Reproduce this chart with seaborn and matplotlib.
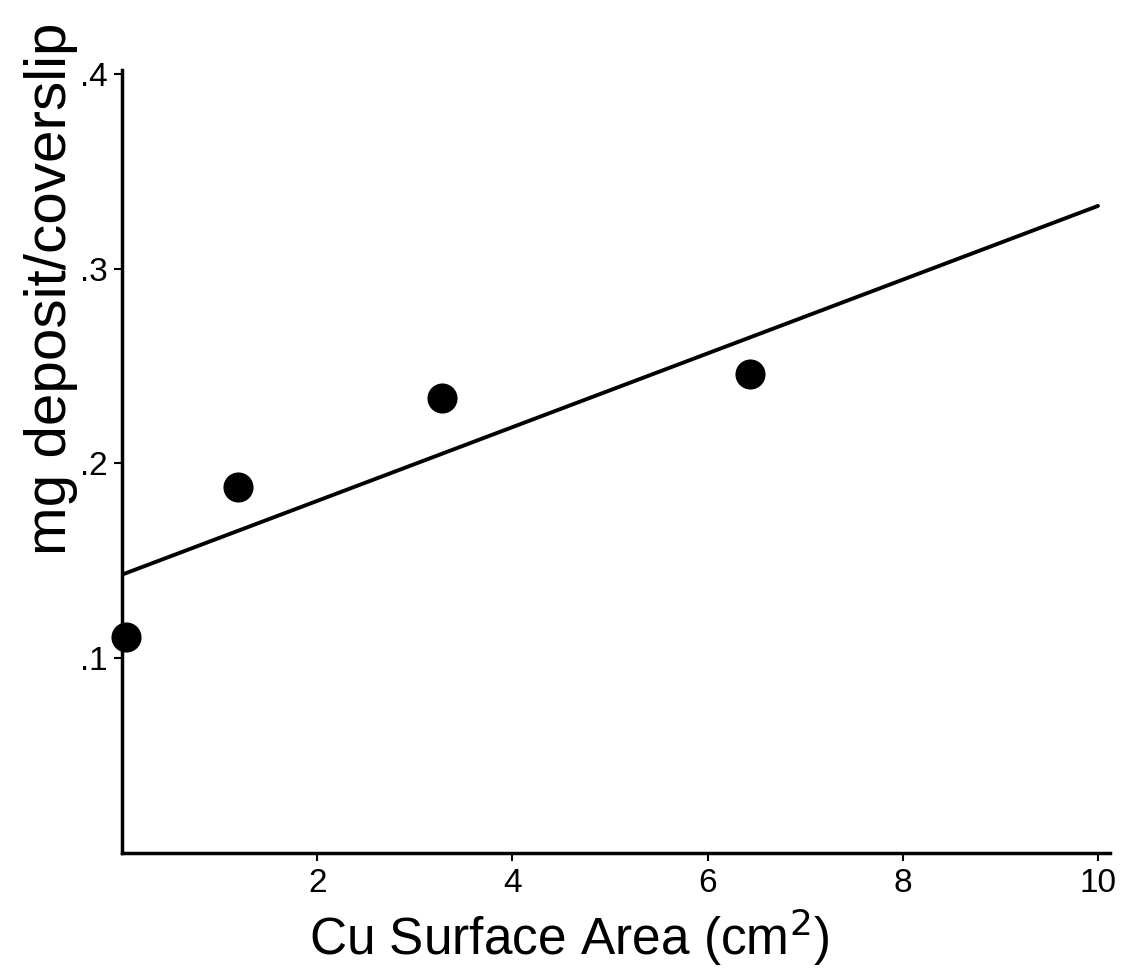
import numpy as np
import pandas as pd
import matplotlib
matplotlib.use('Agg')
import matplotlib.pyplot as plt
import seaborn as sns

# ── Data ──────────────────────────────────────────────────────────────────────
cu_area = [0.04, 1.19, 3.28, 6.43]          # cm^2
deposit = [0.111, 0.188, 0.2335, 0.246]     # mg deposit / coverslip
x_ticks = [2, 4, 6, 8, 10]
y_ticks = [0.1, 0.2, 0.3, 0.4]
y_tick_labels = ['.1', '.2', '.3', '.4']

df = pd.DataFrame({'Cu Surface Area': cu_area, 'Deposit': deposit})

# ── Style ─────────────────────────────────────────────────────────────────────
sns.set_style('ticks')
plt.rcParams['font.family'] = ['Liberation Sans', 'DejaVu Sans']
for key in ['text.color', 'axes.labelcolor', 'xtick.color', 'ytick.color']:
    plt.rcParams[key] = 'black'

fig = plt.figure(figsize=(11.22, 9.69), dpi=100)
ax = fig.add_axes([0.1087, 0.1197, 0.8803, 0.8083])

ax.set_xlim(0, 10)
ax.set_ylim(0, 0.402)

# scatter + least-squares line, extended across the full x range
sns.regplot(data=df, x='Cu Surface Area', y='Deposit', ax=ax, ci=None,
            truncate=False, color='black',
            scatter_kws=dict(s=470, edgecolor='black', linewidths=0, alpha=1,
                             clip_on=False, zorder=3),
            line_kws=dict(linewidth=2.8))

ax.set_xlim(0, 10.12)
ax.set_xticks(x_ticks)
ax.set_yticks(y_ticks)
ax.set_yticklabels(y_tick_labels)
ax.tick_params(axis='both', labelsize=24, length=6, width=1.5, color='black')
ax.tick_params(axis='y', pad=4)
ax.tick_params(axis='x', pad=5)

ax.set_xlabel('Cu Surface Area (cm$^2$)', fontsize=37)
ax.xaxis.set_label_coords(0.453, -0.068)
ax.set_ylabel('mg deposit/coverslip', fontsize=42)
ax.yaxis.set_label_coords(-0.045, 0.72)

sns.despine(ax=ax)
for side in ['left', 'bottom']:
    ax.spines[side].set_linewidth(2.5)
    ax.spines[side].set_color('black')

fig.savefig('out.png', dpi=100)
plt.close(fig)
